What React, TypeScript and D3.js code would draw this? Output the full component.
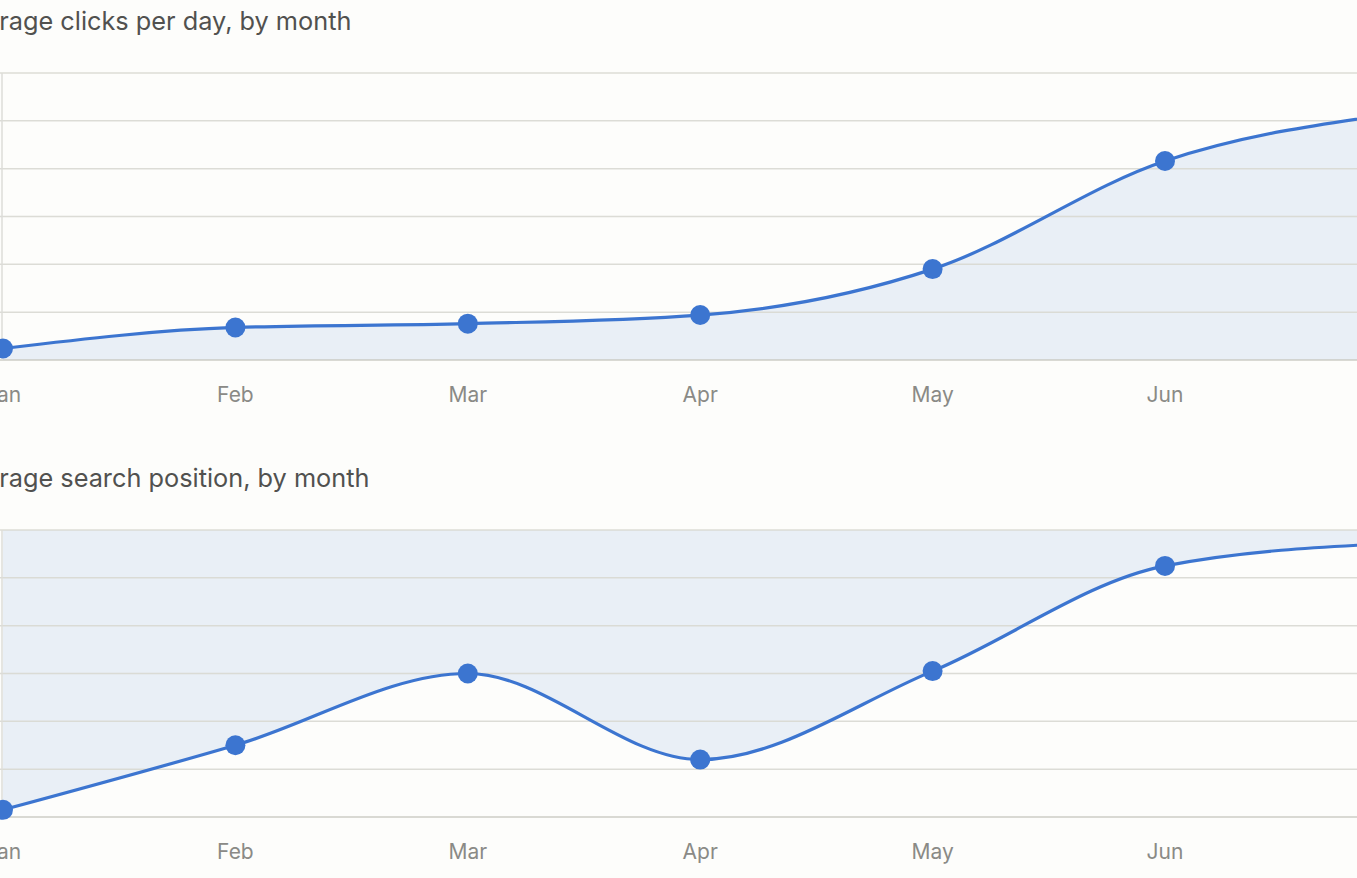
import React, { useEffect, useRef } from 'react'
import * as d3 from 'd3'

const months = ['Jan', 'Feb', 'Mar', 'Apr', 'May', 'Jun', 'Jul']
const clicksPerDay = [1.2, 3.4, 3.8, 4.7, 9.5, 20.8, 25.8]
const searchPosition = [11.7, 9.0, 6.0, 9.6, 5.9, 1.5, 0.55]
const clicksTicks = [0, 5, 10, 15, 20, 25, 30]
const positionTicks = [0, 2, 4, 6, 8, 10, 12]

const WIDTH = 1357
const HEIGHT = 878
const FONT = 'Inter, "Noto Sans", sans-serif'

const App: React.FC = () => {
    const ref = useRef<SVGSVGElement | null>(null)

    useEffect(() => {
        if (!ref.current) return
        const svg = d3.select(ref.current)
        svg.selectAll('*').remove()

        svg.append('rect')
            .attr('width', WIDTH)
            .attr('height', HEIGHT)
            .attr('fill', '#fdfdfb')

        const x = d3.scalePoint<string>()
            .domain(months)
            .range([3, 3 + 232.4 * (months.length - 1)])

        const drawPanel = (
            title: string,
            titleY: number,
            values: number[],
            ticks: number[],
            top: number,
            bottom: number,
            reversed: boolean
        ) => {
            const domain = d3.extent(ticks) as [number, number]
            const y = d3.scaleLinear()
                .domain(domain)
                .range(reversed ? [top, bottom] : [bottom, top])

            const g = svg.append('g')

            // the chart is wider than the window, the left part of the title is cut off
            g.append('text')
                .attr('x', -45)
                .attr('y', titleY)
                .text(title)
                .style('font-family', FONT)
                .style('font-size', '25.3px')
                .style('fill', '#51514f')

            const data = months.map((m, i) => ({ m, v: values[i] }))

            // fill toward the axis minimum (bottom for normal, top for reversed)
            const area = d3.area<{ m: string; v: number }>()
                .x(d => x(d.m) as number)
                .y0(y(domain[0]))
                .y1(d => y(d.v))
                .curve(d3.curveMonotoneX)

            g.append('path')
                .datum(data)
                .attr('d', area)
                .attr('fill', '#3c75d0')
                .attr('fill-opacity', 0.1)

            g.selectAll('.grid')
                .data(ticks)
                .enter()
                .append('line')
                .attr('x1', 0)
                .attr('x2', WIDTH)
                .attr('y1', d => y(d))
                .attr('y2', d => y(d))
                .attr('stroke', d => (y(d) === bottom ? '#c6c6c0' : '#d8d8d2'))
                .attr('stroke-opacity', 0.9)
                .attr('stroke-width', 1.5)

            g.append('line')
                .attr('x1', 2)
                .attr('x2', 2)
                .attr('y1', top)
                .attr('y2', bottom)
                .attr('stroke', '#dcdcd8')
                .attr('stroke-width', 1.5)

            const line = d3.line<{ m: string; v: number }>()
                .x(d => x(d.m) as number)
                .y(d => y(d.v))
                .curve(d3.curveMonotoneX)

            g.append('path')
                .datum(data)
                .attr('d', line)
                .attr('fill', 'none')
                .attr('stroke', '#3c75d0')
                .attr('stroke-width', 3.2)

            g.selectAll('.dot')
                .data(data)
                .enter()
                .append('circle')
                .attr('cx', d => x(d.m) as number)
                .attr('cy', d => y(d.v))
                .attr('r', 10)
                .attr('fill', '#3c75d0')

            g.selectAll('.month')
                .data(months)
                .enter()
                .append('text')
                .attr('x', d => x(d) as number)
                .attr('y', bottom + 42)
                .attr('text-anchor', 'middle')
                .text(d => d)
                .style('font-family', FONT)
                .style('font-size', '21px')
                .style('fill', '#8a8a86')
        }

        drawPanel('Average clicks per day, by month', 30, clicksPerDay, clicksTicks, 73, 360, false)
        drawPanel('Average search position, by month', 487, searchPosition, positionTicks, 530, 817, true)
    }, [])

    return (
        <svg
            ref={ref}
            width={WIDTH}
            height={HEIGHT}
            style={{ position: 'absolute', left: 0, top: 0, display: 'block' }}
        ></svg>
    )
}

export default App
